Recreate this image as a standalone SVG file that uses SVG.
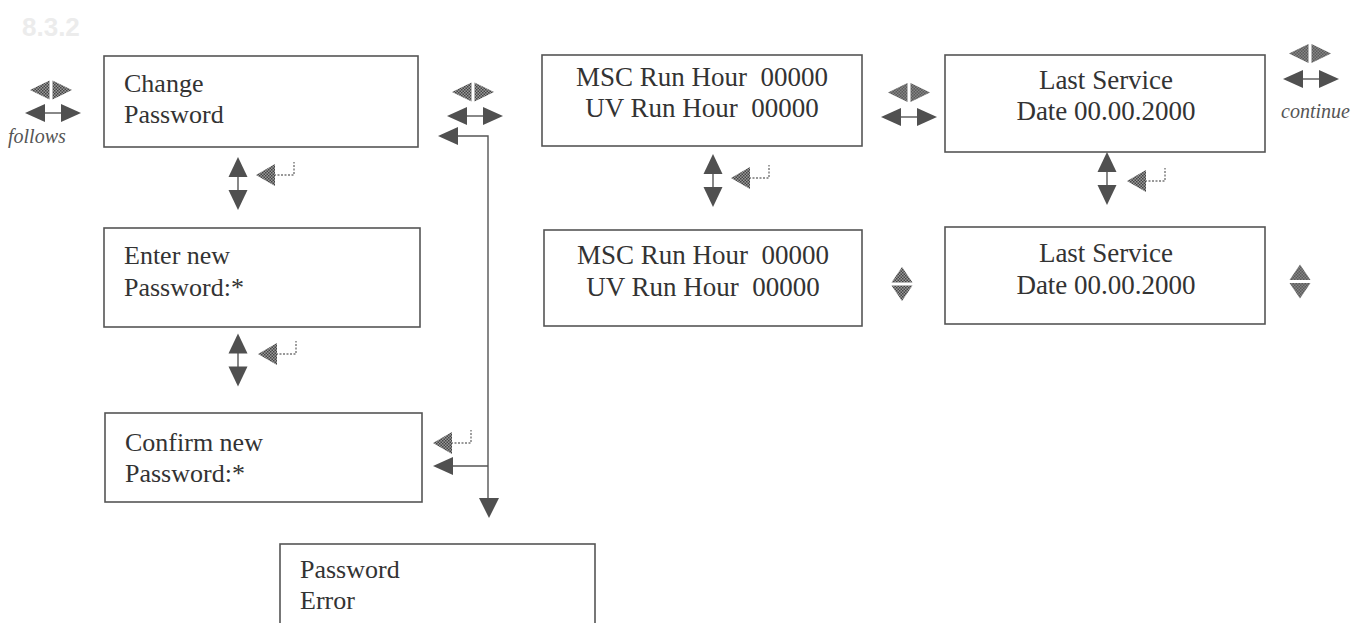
<svg xmlns="http://www.w3.org/2000/svg" width="1365" height="623" viewBox="0 0 1365 623">
<style>
.box{fill:#fff;stroke:#555;stroke-width:1.6}
.t{font-family:"Liberation Serif","Times New Roman",serif;font-size:26px;fill:#333}
.r{font-size:27px}
.c{text-anchor:middle}
.it{font-family:"Liberation Serif","Times New Roman",serif;font-style:italic;font-size:20px;fill:#555}
.solid{fill:#505050}
.dot{fill:url(#chk)}
.ln{stroke:#555;stroke-width:1.4;fill:none}
.dl{stroke:#777;stroke-width:1.4;fill:none;stroke-dasharray:2 1.5}
</style>
<defs>
<pattern id="chk" width="3" height="3" patternUnits="userSpaceOnUse">
<rect width="3" height="3" fill="#9a9a9a"/>
<rect width="1.5" height="1.5" fill="#444"/>
<rect x="1.5" y="1.5" width="1.5" height="1.5" fill="#444"/>
</pattern>
<g id="dblh">
<line class="ln" x1="-9" y1="0" x2="9" y2="0"/>
<polygon class="solid" points="-28,0 -8,-9 -8,9"/>
<polygon class="solid" points="28,0 8,-9 8,9"/>
</g>
<g id="lrpair">
<polygon class="dot" points="-21,0 -1.5,-9.5 -1.5,9.5"/>
<polygon class="dot" points="21,0 1.5,-9.5 1.5,9.5"/>
</g>
<g id="ud">
<line class="ln" x1="0" y1="-7" x2="0" y2="7"/>
<polygon class="solid" points="0,-26.5 -9.5,-6.5 9.5,-6.5"/>
<polygon class="solid" points="0,26.5 -9.5,6.5 9.5,6.5"/>
</g>
<g id="enter">
<polyline class="dl" points="18,0 38,0 38,-13"/>
<polygon class="dot" points="0,0 19,-11 19,11"/>
</g>
<g id="udpair">
<polygon class="dot" points="0,-17 -10.5,-1.5 10.5,-1.5"/>
<polygon class="dot" points="0,17 -10.5,1.5 10.5,1.5"/>
</g>
</defs>
<text x="22" y="36" font-family="Liberation Sans,Arial,sans-serif" font-weight="bold" font-size="26" fill="#ececec">8.3.2</text>
<g id="n-change">
<rect class="box" x="104" y="56" width="314" height="91"/>
<text class="t" x="124" y="92">Change</text>
<text class="t" x="124" y="123">Password</text>
</g>
<g id="n-enter">
<rect class="box" x="104" y="228" width="316" height="99"/>
<text class="t" x="124" y="264">Enter new</text>
<text class="t" x="124" y="296">Password:*</text>
</g>
<g id="n-confirm">
<rect class="box" x="105" y="413" width="317" height="89"/>
<text class="t" x="125" y="451">Confirm new</text>
<text class="t" x="125" y="482">Password:*</text>
</g>
<g id="n-error">
<rect class="box" x="280" y="544" width="315" height="90"/>
<text class="t" x="300" y="578">Password</text>
<text class="t" x="300" y="609">Error</text>
</g>
<g id="n-msc1">
<rect class="box" x="542" y="55" width="320" height="91"/>
<text class="t r c" x="702" y="86" xml:space="preserve">MSC Run Hour  00000</text>
<text class="t r c" x="702" y="117" xml:space="preserve">UV Run Hour  00000</text>
</g>
<g id="n-msc2">
<rect class="box" x="544" y="230" width="318" height="96"/>
<text class="t r c" x="703" y="264" xml:space="preserve">MSC Run Hour  00000</text>
<text class="t r c" x="703" y="296" xml:space="preserve">UV Run Hour  00000</text>
</g>
<g id="n-ls1">
<rect class="box" x="945" y="55" width="320" height="97"/>
<text class="t r c" x="1106" y="89">Last Service</text>
<text class="t r c" x="1106" y="120">Date 00.00.2000</text>
</g>
<g id="n-ls2">
<rect class="box" x="945" y="227" width="320" height="97"/>
<text class="t r c" x="1106" y="262">Last Service</text>
<text class="t r c" x="1106" y="294">Date 00.00.2000</text>
</g>
<g id="connectors">
<use href="#lrpair" x="51" y="90"/>
<use href="#dblh" x="53" y="113"/>
<text class="it" x="8" y="143">follows</text>
<use href="#lrpair" x="473" y="92"/>
<use href="#dblh" x="475" y="116"/>
<polyline class="ln" points="457,136 488,136 488,499"/>
<polygon class="solid" points="438,136 458,127 458,145"/>
<polygon class="solid" points="479,498 499,498 489,518"/>
<line class="ln" x1="452" y1="466" x2="488" y2="466"/>
<polygon class="solid" points="433,466 453,457 453,475"/>
<use href="#enter" x="433" y="443"/>
<use href="#ud" x="238" y="183.5"/>
<use href="#enter" x="256" y="175"/>
<use href="#ud" x="238" y="360"/>
<use href="#enter" x="258" y="354"/>
<use href="#ud" x="713" y="180.5"/>
<use href="#enter" x="731" y="178"/>
<use href="#lrpair" x="909" y="92.5"/>
<use href="#dblh" x="909" y="117"/>
<use href="#lrpair" x="1310" y="53.5"/>
<use href="#dblh" x="1311" y="79"/>
<text class="it" x="1281" y="118">continue</text>
<use href="#ud" x="1107" y="178.5"/>
<use href="#enter" x="1127" y="181"/>
<use href="#udpair" x="902" y="284"/>
<use href="#udpair" x="1300" y="281.5"/>
</g>
</svg>
